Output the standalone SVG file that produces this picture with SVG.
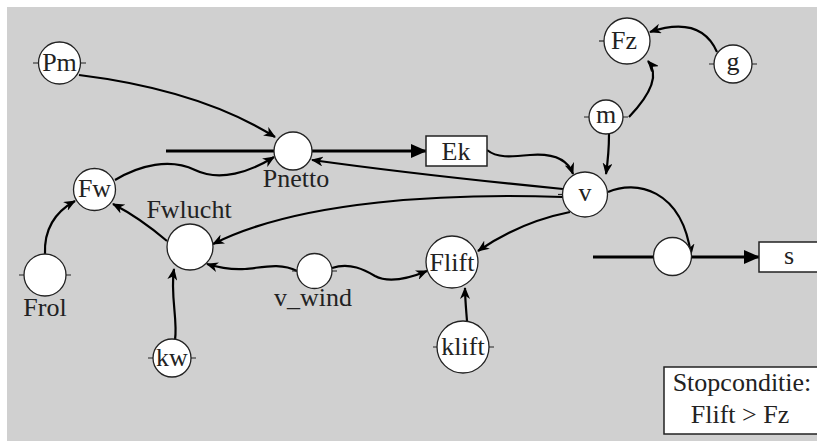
<svg xmlns="http://www.w3.org/2000/svg" width="817" height="441" viewBox="0 0 817 441">
<defs>
<style>
.bg{fill:#d0d0d0}
.n{fill:#fff;stroke:#222;stroke-width:1.3}
.b{fill:#fff;stroke:#222;stroke-width:1.5}
.t{font-family:"Liberation Serif","Times New Roman",serif;font-size:26px;fill:#222;text-anchor:middle}
.ts{font-family:"Liberation Serif","Times New Roman",serif;font-size:26px;fill:#222;text-anchor:start}
.tk{stroke:#222;stroke-width:1.2}
.c{fill:none;stroke:#000;stroke-width:2.2;marker-end:url(#ah)}
.f{fill:none;stroke:#000;stroke-width:3.2}
.fa{fill:none;stroke:#000;stroke-width:3.2;marker-end:url(#fh)}
</style>
<marker id="ah" viewBox="0 0 12 10" refX="11" refY="5" markerWidth="12" markerHeight="10" markerUnits="userSpaceOnUse" orient="auto">
<path d="M0,0 L12,5 L0,10 L3.5,5 z" fill="#000"/>
</marker>
<marker id="fh" viewBox="0 0 16 14" refX="15" refY="7" markerWidth="16" markerHeight="14" markerUnits="userSpaceOnUse" orient="auto">
<path d="M0,0 L16,7 L0,14 z" fill="#000"/>
</marker>
</defs>
<rect class="bg" x="7" y="7" width="810" height="434"/>

<g id="connectors">
<path class="f" d="M166,151 L274,151"/>
<path class="fa" d="M312,151 L426,151"/>
<path class="f" d="M593,257 L654,257"/>
<path class="fa" d="M691,257 L759,257"/>
<path class="c" d="M79,75 Q200,90 275,137"/>
<path class="c" d="M115,180 C140,165 170,158 195,170 S250,172 274,157"/>
<path class="c" d="M487,150 C497,158 510,157 530,155 C555,153 568,160 573,174"/>
<path class="c" d="M563,189 Q420,175 312,160"/>
<path class="c" d="M563,197 C450,193 300,200 213,244"/>
<path class="c" d="M570,212 Q520,222 478,251"/>
<path class="c" d="M608,192 C635,180 682,188 691,255"/>
<path class="c" d="M629,117 C650,95 660,75 648,61"/>
<path class="c" d="M609,134 C609,150 608,160 606,174"/>
<path class="c" d="M717,52 C705,25 680,22 650,32"/>
<path class="c" d="M45,254 C44,230 55,212 75,201"/>
<path class="c" d="M167,241 Q140,218 113,204"/>
<path class="c" d="M175,340 C178,320 170,295 174,269"/>
<path class="c" d="M297,271 C280,262 260,268 245,269 C230,270 220,268 207,264"/>
<path class="c" d="M332,268 C350,262 365,270 375,276 C390,284 410,278 427,271"/>
<path class="c" d="M467,321 C466,308 465,298 465,288"/>
</g>

<g id="Pm"><path class="tk" d="M33,63 H86"/><circle class="n" cx="59.5" cy="63" r="21"/><text class="t" x="59.5" y="71">Pm</text></g>
<g id="Pnetto"><circle class="n" cx="293" cy="151" r="19"/><text class="t" x="296" y="187">Pnetto</text></g>
<g id="Ek"><rect class="b" x="426" y="136" width="61" height="30"/><text class="t" x="456" y="160">Ek</text></g>
<g id="Fw"><circle class="n" cx="94.5" cy="189.5" r="21"/><text class="t" x="94.5" y="197">Fw</text></g>
<g id="Fwlucht"><circle class="n" cx="190" cy="247" r="23"/><text class="t" x="189" y="218">Fwlucht</text></g>
<g id="Frol"><path class="tk" d="M19,275 H71"/><circle class="n" cx="45" cy="275" r="21"/><text class="t" x="45" y="316">Frol</text></g>
<g id="kw"><path class="tk" d="M148,358 H196"/><circle class="n" cx="172" cy="358" r="19"/><text class="t" x="172" y="366">kw</text></g>
<g id="v_wind"><path class="tk" d="M292,271 H337"/><circle class="n" cx="314.5" cy="271" r="17.5"/><text class="t" x="313" y="306">v_wind</text></g>
<g id="Flift"><circle class="n" cx="452" cy="262" r="26"/><text class="t" x="452" y="271">Flift</text></g>
<g id="klift"><path class="tk" d="M433,347 H494"/><circle class="n" cx="463" cy="347" r="26"/><text class="t" x="463" y="355">klift</text></g>
<g id="v"><path class="tk" d="M558,194.5 H585"/><circle class="n" cx="585" cy="194.5" r="22.5"/><text class="t" x="585" y="201">v</text></g>
<g id="m"><path class="tk" d="M584,117 H628"/><circle class="n" cx="606" cy="117" r="17"/><text class="t" x="606" y="123">m</text></g>
<g id="Fz"><path class="tk" d="M599,41 H627"/><circle class="n" cx="627" cy="41" r="23"/><text class="t" x="624" y="49">Fz</text></g>
<g id="g"><path class="tk" d="M709,64 H757"/><circle class="n" cx="733" cy="64" r="19"/><text class="t" x="733" y="70">g</text></g>
<g id="integrator"><circle class="n" cx="672.5" cy="256.5" r="19"/></g>
<g id="s"><rect class="b" x="759" y="242" width="62" height="30"/><text class="t" x="789" y="264">s</text></g>
<g id="stop"><rect class="b" x="664" y="367" width="160" height="67"/><text class="t" x="742" y="391">Stopconditie:</text><text class="t" x="740" y="423">Flift &gt; Fz</text></g>
</svg>
